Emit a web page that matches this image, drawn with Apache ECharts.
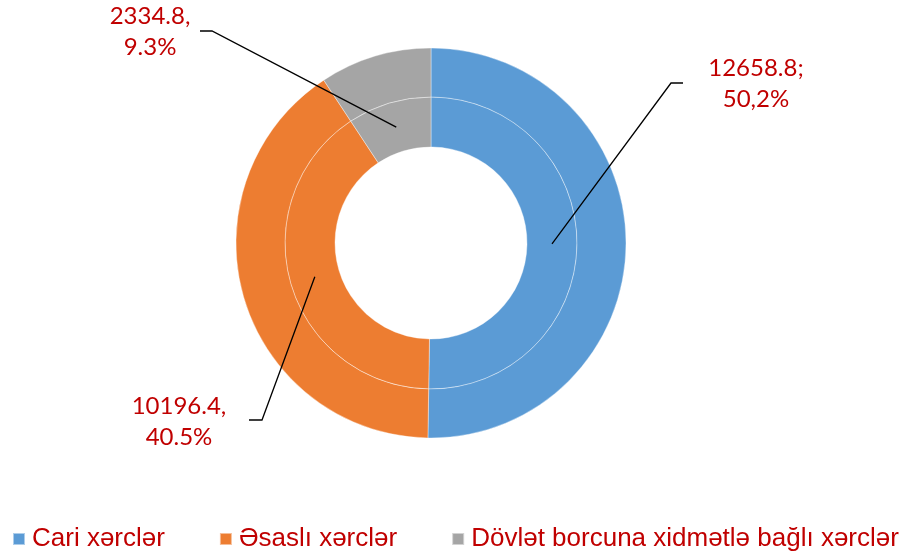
<!DOCTYPE html>
<html>
<head>
<meta charset="utf-8">
<script src="https://cdn.jsdelivr.net/npm/echarts@6/dist/echarts.min.js"></script>
<style>
  html, body { margin: 0; padding: 0; background: #fff; }
  #chart { width: 906px; height: 558px; }
</style>
</head>
<body>
<div id="chart"></div>
<script>
  const categories = ["Cari xərclər", "Əsaslı xərclər", "Dövlət borcuna xidmətlə bağlı xərclər"];
  const values = [12658.8, 10196.4, 2334.8];
  const percentLabels = ["50,2%", "40.5%", "9.3%"];
  const separators = [";", ",", ","];
  const colors = ["#5B9BD5", "#ED7D31", "#A5A5A5"];

  const cx = 431;
  const cy = 243;
  const rInner = 96;
  const rMid = 146;
  const rOuter = 195;

  // where each label sits, and the elbow of its leader line
  const labelSpots = [
    { x: 756, y: 84, elbow: [671, 83], end: [683, 83] },
    { x: 179, y: 422, elbow: [262, 420], end: [249, 420] },
    { x: 150, y: 32, elbow: [212, 31], end: [200, 31] },
  ];

  const total = values.reduce((a, b) => a + b, 0);

  function midAngle(i) {
    let before = 0;
    for (let k = 0; k < i; k++) before += values[k];
    const frac = (before + values[i] / 2) / total;
    return frac * Math.PI * 2; // clockwise from top
  }

  const pieData = categories.map((name, i) => ({
    name,
    value: values[i],
    itemStyle: { color: colors[i] },
  }));

  const ringStyle = { borderColor: "rgba(255,255,255,0.5)", borderWidth: 0.75 };

  const chart = echarts.init(document.getElementById("chart"));
  chart.setOption({
    animation: false,
    legend: {
      data: categories,
      left: 7,
      bottom: 1,
      icon: "rect",
      itemWidth: 12,
      itemHeight: 12,
      itemGap: 54,
      textStyle: {
        color: "#C00000",
        fontSize: 26,
        padding: [0, 0, 0, 2],
        fontFamily: "Liberation Sans, Arial, sans-serif",
      },
    },
    series: [
      {
        type: "pie",
        center: [cx, cy],
        radius: [rInner, rMid],
        startAngle: 90,
        silent: true,
        itemStyle: ringStyle,
        label: { show: false },
        labelLine: { show: false },
        data: pieData,
      },
      {
        type: "pie",
        center: [cx, cy],
        radius: [rMid, rOuter],
        startAngle: 90,
        silent: true,
        itemStyle: ringStyle,
        label: { show: false },
        labelLine: { show: false },
        data: pieData,
      },
      {
        // transparent overlay that carries the labels so leader lines sit on top
        type: "pie",
        center: [cx, cy],
        radius: [rInner, rMid],
        startAngle: 90,
        silent: true,
        z: 5,
        avoidLabelOverlap: false,
        itemStyle: { color: "transparent", borderWidth: 0 },
        label: {
          show: true,
          position: "outside",
          color: "#C00000",
          fontSize: 24,
          lineHeight: 31,
          align: "center",
          fontFamily: "Lato, Liberation Sans, sans-serif",
          formatter: (p) => `${values[p.dataIndex]}${separators[p.dataIndex]}\n${percentLabels[p.dataIndex]}`,
        },
        labelLine: {
          show: true,
          lineStyle: { color: "#000", width: 1.3 },
        },
        labelLayout: (params) => {
          const i = params.dataIndex;
          const spot = labelSpots[i];
          const a = midAngle(i);
          const rm = (rInner + rMid) / 2;
          const start = [cx + rm * Math.sin(a), cy - rm * Math.cos(a)];
          return {
            x: spot.x,
            y: spot.y,
            align: "center",
            verticalAlign: "middle",
            labelLinePoints: [start, spot.elbow, spot.end],
          };
        },
        data: categories.map((name, i) => ({ name, value: values[i] })),
      },
    ],
  });
</script>
</body>
</html>
